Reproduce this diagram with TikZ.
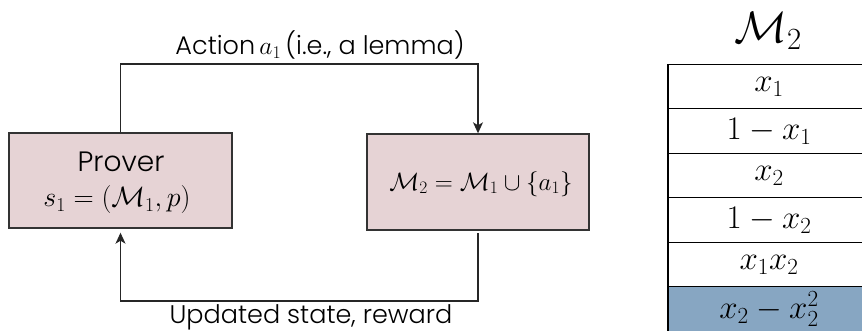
\RequirePackage{fix-cm}
\documentclass[tikz,border=0pt]{standalone}
\usepackage{fontspec}
\newfontfamily\lblfont{Poppins}[UprightFont=* Light]
\usetikzlibrary{arrows.meta}
\definecolor{boxpink}{HTML}{E6D3D5}
\definecolor{rowblue}{HTML}{87A6C2}
\definecolor{edgegray}{HTML}{333333}
\begin{document}
\begin{tikzpicture}[x=1pt,y=-1pt,
  statebox/.style={draw=edgegray, line width=1.4pt, fill=boxpink, minimum width=223pt, minimum height=95pt, inner sep=0pt},
  flow/.style={line width=1.3pt, draw=black!85},
  tip/.style={-{Stealth[length=11pt,width=10pt,inset=3pt]}},
  lbl/.style={font=\lblfont\fontsize{25.5}{28}\selectfont, inner sep=0pt},
  txt/.style={inner sep=0pt},
  rowcell/.style={draw=black, line width=1.2pt, minimum width=202pt, minimum height=44.5pt, inner sep=0pt, font=\fontsize{33}{38}\selectfont},
]
\clip (0,0) rectangle (862,331);
% boxes
\node[statebox] (prover) at (120.5,180.5) {};
\node[txt, font=\lblfont\fontsize{28}{30}\selectfont] (provername) at (121,162) {Prover};
\node[txt, font=\fontsize{28}{30}\selectfont] (proverstate) at (117,200) {$s_1=(\mathcal{M}_1,p)$};
\node[statebox, minimum width=222pt, minimum height=96pt] (update) at (478,182) {};
\node[txt, font=\fontsize{25}{28}\selectfont] (updatetext) at (481,184) {$\mathcal{M}_2=\mathcal{M}_1\cup\{a_1\}$};
% connectors
\coordinate (topy) at (0,64);
\coordinate (boty) at (0,301);
\draw[flow, tip] (prover.north) -- (prover.north |- topy) -| (update.north);
\draw[flow, tip, shorten <=2.5pt, shorten >=4pt] (update.south) -- (update.south |- boty) -| (prover.south);
\node[lbl] (actionlbl) at (320,45) {Action\,$a_1$\,(i.e., a lemma)};
\node[lbl] (rewardlbl) at (311,317) {Updated state, reward};
% table
\node[txt, font=\fontsize{44}{48}\selectfont] (title) at (768,31) {$\mathcal{M}_2$};
\node[rowcell] (r1) at (769,86.5) {$x_1$};
\node[rowcell] (r2) at (769,131) {$1-x_1$};
\node[rowcell] (r3) at (769,175.5) {$x_2$};
\node[rowcell] (r4) at (769,220) {$1-x_2$};
\node[rowcell] (r5) at (769,264.5) {$x_1x_2$};
\node[rowcell, fill=rowblue] (r6) at (769,309) {$x_2-x_2^2$};
\end{tikzpicture}
\end{document}
